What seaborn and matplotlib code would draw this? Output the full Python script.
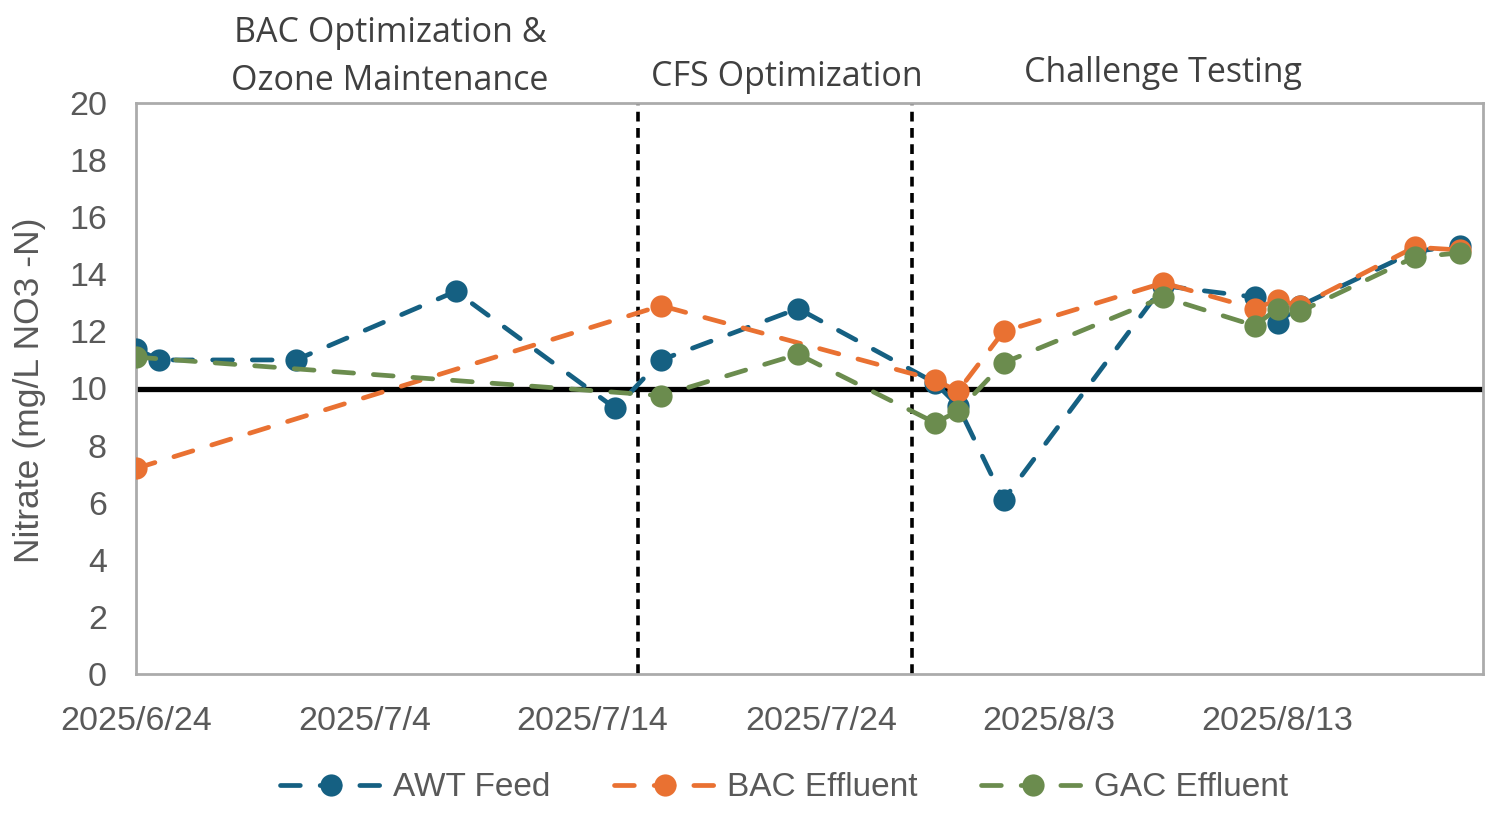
import pandas as pd
import numpy as np
import seaborn as sns
import matplotlib
matplotlib.use("Agg")
import matplotlib.pyplot as plt
import matplotlib.dates as mdates
from matplotlib.ticker import FuncFormatter

# data (mg/L NO3-N)
awt_dates = ["2025-06-24", "2025-06-25", "2025-07-01", "2025-07-08", "2025-07-15", "2025-07-17",
             "2025-07-23", "2025-07-29", "2025-07-30", "2025-08-01", "2025-08-08", "2025-08-12",
             "2025-08-13", "2025-08-14", "2025-08-19", "2025-08-21"]
awt_vals = [11.4, 11.0, 11.0, 13.4, 9.3, 11.0, 12.8, 10.2, 9.4, 6.1, 13.6, 13.2, 12.3, 12.9, 14.8, 15.0]

bac_dates = ["2025-06-24", "2025-07-17", "2025-07-29", "2025-07-30", "2025-08-01", "2025-08-08",
             "2025-08-12", "2025-08-13", "2025-08-14", "2025-08-19", "2025-08-21"]
bac_vals = [7.2, 12.9, 10.3, 9.9, 12.0, 13.7, 12.8, 13.1, 12.9, 14.95, 14.85]

gac_dates = ["2025-06-24", "2025-07-17", "2025-07-23", "2025-07-29", "2025-07-30", "2025-08-01",
             "2025-08-08", "2025-08-12", "2025-08-13", "2025-08-14", "2025-08-19", "2025-08-21"]
gac_vals = [11.1, 9.75, 11.2, 8.8, 9.2, 10.9, 13.2, 12.2, 12.8, 12.7, 14.6, 14.75]

series_names = ["AWT Feed", "BAC Effluent", "GAC Effluent"]
series_colors = ["#156082", "#E97132", "#6B8C4E"]

phase_breaks = ["2025-07-16", "2025-07-28"]
phase_labels = ["BAC Optimization &\nOzone Maintenance", "CFS Optimization", "Challenge Testing"]
limit = 10

x_start = pd.Timestamp("2025-06-24")
x_end = pd.Timestamp("2025-08-22")

sns.set_style("white")
plt.rcParams['font.family'] = ['Liberation Sans', 'DejaVu Sans']

fig = plt.figure(figsize=(15.01, 8.16), dpi=100)
ax = fig.add_axes([136 / 1501, 1 - 674 / 816, (1483 - 136) / 1501, (674 - 103) / 816])

frames = [
    pd.DataFrame({"date": pd.to_datetime(awt_dates), "value": awt_vals}),
    pd.DataFrame({"date": pd.to_datetime(bac_dates), "value": bac_vals}),
    pd.DataFrame({"date": pd.to_datetime(gac_dates), "value": gac_vals}),
]

handles = []
for df, name, col in zip(frames, series_names, series_colors):
    sns.lineplot(data=df, x="date", y="value", ax=ax, color=col, marker="o", zorder=3)
    ln = ax.lines[-1]
    ln.set_label(name)
    ln.set_linewidth(3.4)
    ln.set_dashes([4.2, 4.2])
    ln.set_dash_capstyle("round")
    ln.set_markersize(16)
    ln.set_markeredgewidth(0)
    ln.set_markerfacecolor(col)
    handles.append(ln)

# threshold and phase boundaries
ax.axhline(limit, color="black", linewidth=3.8, zorder=2)
for d in phase_breaks:
    ax.axvline(pd.Timestamp(d), color="black", linewidth=2.6, linestyle=(0, (2.7, 1.8)), zorder=2)

ax.set_xlim(x_start, x_end)
ax.set_ylim(0, 20)
ax.set_yticks(np.arange(0, 21, 2))
ax.set_xticks(pd.date_range(x_start, periods=6, freq="10D"))
ax.xaxis.set_major_formatter(FuncFormatter(
    lambda v, p: "{}/{}/{}".format(mdates.num2date(v).year, mdates.num2date(v).month, mdates.num2date(v).day)))

for s in ax.spines.values():
    s.set_color("#ABABAB")
    s.set_linewidth(2)
ax.tick_params(axis="both", direction="in", length=7, width=1.6, color="#ABABAB",
               labelsize=24.5, labelcolor="#595959")
ax.tick_params(axis="x", pad=23)
ax.tick_params(axis="y", pad=21)
ax.set_xlabel("")
ax.set_ylabel("")
fig.text(30 / 1501, 1 - 390 / 816, "Nitrate (mg/L NO3 -N)", rotation=90, ha="center", va="center",
         fontsize=25.5, color="#595959")

# phase titles
title_font = ["Open Sans", "DejaVu Sans"]
fig.text(390 / 1501, 1 - 57 / 816, phase_labels[0], ha="center", va="center", fontsize=24.5,
         color="#404040", family=title_font, linespacing=1.55)
fig.text(787 / 1501, 1 - 77 / 816, phase_labels[1], ha="center", va="center", fontsize=24.5,
         color="#404040", family=title_font)
fig.text(1163 / 1501, 1 - 73 / 816, phase_labels[2], ha="center", va="center", fontsize=24.5,
         color="#404040", family=title_font)

ax.legend(handles=handles, loc="center", bbox_to_anchor=(784 / 1501, 1 - 788 / 816),
          bbox_transform=fig.transFigure, ncol=3, frameon=False, fontsize=24,
          handlelength=3.1, handletextpad=0.3, columnspacing=1.9, labelcolor="#595959")

fig.savefig("out.png", dpi=100)
